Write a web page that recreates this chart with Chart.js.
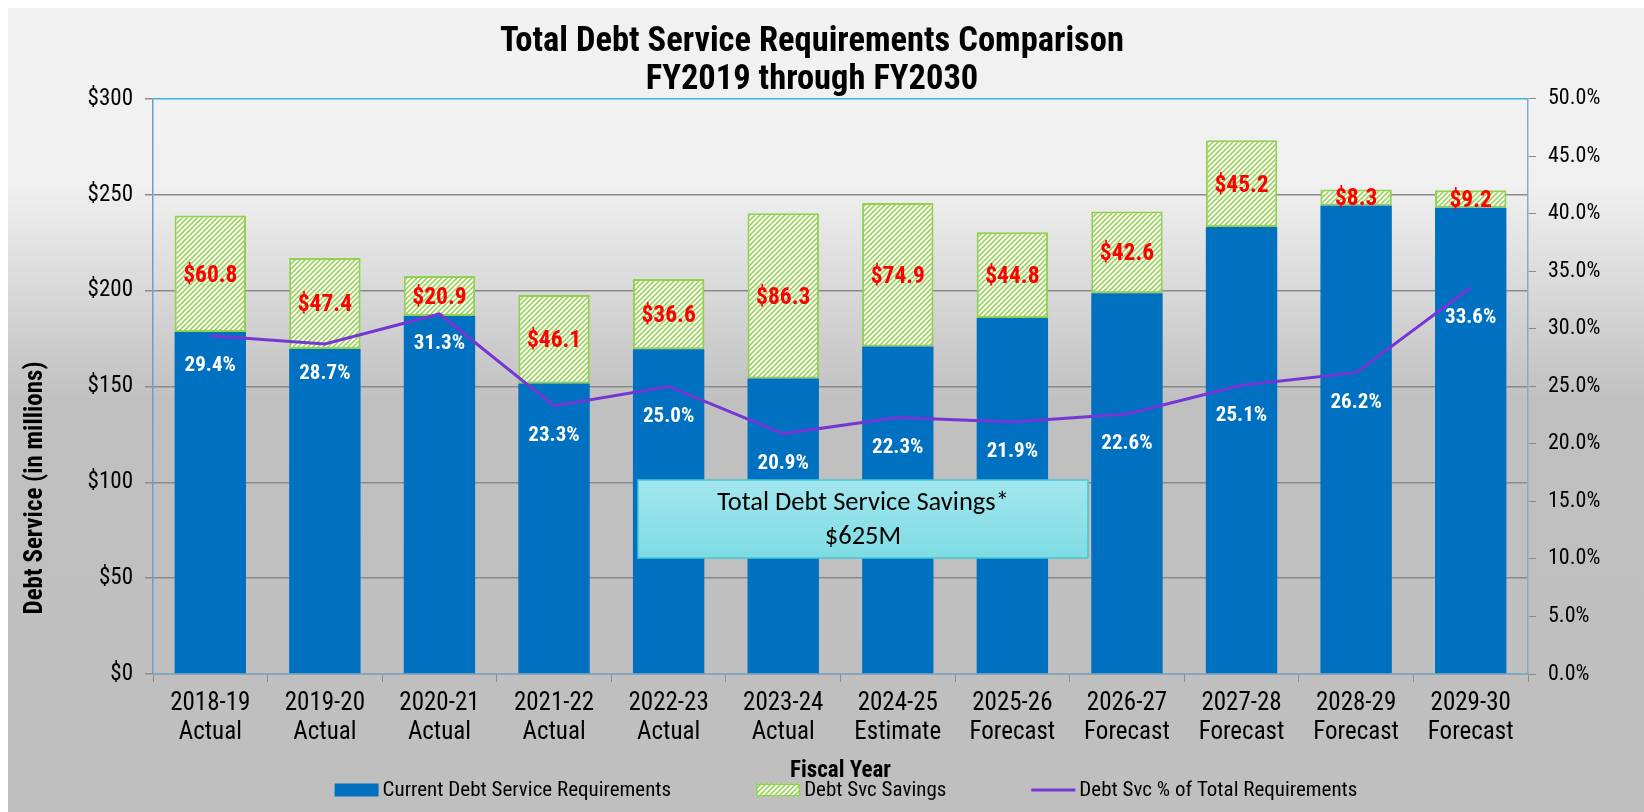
<!DOCTYPE html>
<html>
<head>
<meta charset="utf-8">
<script src="https://cdn.jsdelivr.net/npm/chart.js@4.4.1/dist/chart.umd.min.js"></script>
<style>
  html, body { margin: 0; padding: 0; background: #fff; }
  #wrap { width: 1644px; height: 812px; }
</style>
</head>
<body>
<div id="wrap"><canvas id="mainChart" width="1644" height="812"></canvas></div>
<script>
// data ($ millions / percent)
const fiscalYears = ['2018-19', '2019-20', '2020-21', '2021-22', '2022-23', '2023-24',
                     '2024-25', '2025-26', '2026-27', '2027-28', '2028-29', '2029-30'];
const yearTypes = ['Actual', 'Actual', 'Actual', 'Actual', 'Actual', 'Actual',
                   'Estimate', 'Forecast', 'Forecast', 'Forecast', 'Forecast', 'Forecast'];
const currentDebt = [178.4, 169.6, 186.7, 151.6, 169.4, 154.1, 170.8, 185.7, 198.6, 233.2, 244.4, 243.2];
const debtSavings = [60.8, 47.4, 20.9, 46.1, 36.6, 86.3, 74.9, 44.8, 42.6, 45.2, 8.3, 9.2];
const pctOfTotal = [29.4, 28.7, 31.3, 23.3, 25.0, 20.9, 22.3, 21.9, 22.6, 25.1, 26.2, 33.6];
const titleLines = ['Total Debt Service Requirements Comparison', 'FY2019 through FY2030'];
const savingsNote = ['Total Debt Service Savings*', '$625M'];

// no Arial Narrow here, Roboto Condensed is the closest installed face
const narrow = '"Roboto Condensed", "Liberation Sans Narrow", "Arial Narrow", sans-serif';
const BLUE = '#0070c0', GREEN = '#92d050', PURPLE = '#7536d4';

// diagonal hatch for the savings bars
function makeHatch() {
    const s = 5;
    const c = document.createElement('canvas');
    c.width = s; c.height = s;
    const x = c.getContext('2d');
    x.fillStyle = '#fafcf6';
    x.fillRect(0, 0, s, s);
    x.strokeStyle = GREEN;
    x.lineWidth = 1.5;
    x.beginPath();
    x.moveTo(0, s); x.lineTo(s, 0);
    x.moveTo(-1, 1); x.lineTo(1, -1);
    x.moveTo(s - 1, s + 1); x.lineTo(s + 1, s - 1);
    x.stroke();
    return x.createPattern(c, 'repeat');
}
const hatch = makeHatch();

const background = {
    id: 'background',
    beforeDraw(chart) {
        const {ctx, width, height} = chart;
        ctx.save();
        ctx.fillStyle = '#ffffff';
        ctx.fillRect(0, 0, width, height);
        const g = ctx.createLinearGradient(0, 8, 0, height);
        g.addColorStop(0, '#f2f2f2');
        g.addColorStop(0.22, '#f0f0f0');
        g.addColorStop(0.49, '#c0c0c0');
        g.addColorStop(1, '#bfbfbf');
        ctx.fillStyle = g;
        ctx.fillRect(8, 8, width - 8, height - 8);
        ctx.restore();
    }
};

const valueLabels = {
    id: 'valueLabels',
    afterDatasetsDraw(chart) {
        const ctx = chart.ctx;
        ctx.save();
        ctx.textAlign = 'center';
        ctx.textBaseline = 'middle';
        ctx.fillStyle = '#ff0000';
        ctx.font = 'bold 23.5px ' + narrow;
        chart.getDatasetMeta(1).data.forEach((bar, i) => {
            ctx.fillText('$' + debtSavings[i].toFixed(1), bar.x, (bar.y + bar.base) / 2 + 2);
        });
        ctx.fillStyle = '#ffffff';
        ctx.font = 'bold 21px ' + narrow;
        chart.getDatasetMeta(2).data.forEach((pt, i) => {
            ctx.fillText(pctOfTotal[i].toFixed(1) + '%', pt.x, pt.y + 30);
        });
        ctx.restore();
    }
};

const extras = {
    id: 'extras',
    afterDraw(chart) {
        const ctx = chart.ctx;
        ctx.save();

        // y axis title, sits lower than the plot middle
        ctx.translate(36, 488);
        ctx.rotate(-Math.PI / 2);
        ctx.font = 'bold 25px ' + narrow;
        ctx.fillStyle = '#000';
        ctx.textAlign = 'center';
        ctx.textBaseline = 'middle';
        ctx.fillText('Debt Service (in millions)', 0, 0);
        ctx.setTransform(1, 0, 0, 1, 0, 0);

        // legend
        ctx.font = '21px ' + narrow;
        ctx.textAlign = 'left';
        const boxW = 44, gap = 4, spacing = 85, ly = 790;
        const items = chart.data.datasets.map(ds => ({ds, w: boxW + gap + ctx.measureText(ds.label).width}));
        const total = items.reduce((s, it) => s + it.w, 0) + spacing * (items.length - 1);
        let lx = 846 - total / 2;
        items.forEach(({ds, w}) => {
            if (ds.type === 'line') {
                ctx.strokeStyle = ds.borderColor;
                ctx.lineWidth = 3;
                ctx.beginPath();
                ctx.moveTo(lx, ly);
                ctx.lineTo(lx + boxW, ly);
                ctx.stroke();
            } else {
                ctx.fillStyle = ds.backgroundColor;
                ctx.fillRect(lx, ly - 6.5, boxW, 13);
                if (ds.borderWidth) {
                    ctx.strokeStyle = ds.borderColor;
                    ctx.lineWidth = 1.5;
                    ctx.strokeRect(lx + 0.75, ly - 5.75, boxW - 1.5, 11.5);
                }
            }
            ctx.fillStyle = '#000';
            ctx.fillText(ds.label, lx + boxW + gap, ly + 1);
            lx += w + spacing;
        });

        // savings call-out box
        const bx = 638, by = 480, bw = 450, bh = 78;
        const g = ctx.createLinearGradient(0, by, 0, by + bh);
        g.addColorStop(0, '#a3e6ee');
        g.addColorStop(1, '#7edce3');
        ctx.fillStyle = g;
        ctx.fillRect(bx, by, bw, bh);
        ctx.strokeStyle = '#45c6d6';
        ctx.lineWidth = 1.5;
        ctx.strokeRect(bx, by, bw, bh);
        ctx.fillStyle = '#000';
        ctx.textAlign = 'center';
        ctx.textBaseline = 'middle';
        ctx.font = '26.5px Carlito, Lato, "Open Sans", sans-serif';
        ctx.fillText(savingsNote[0], bx + bw / 2, by + 23);
        ctx.fillText(savingsNote[1], bx + bw / 2, by + 57);
        ctx.restore();
    }
};

new Chart(document.getElementById('mainChart'), {
    type: 'bar',
    data: {
        labels: fiscalYears.map((y, i) => [y, yearTypes[i]]),
        datasets: [
            {
                label: 'Current Debt Service Requirements',
                data: currentDebt,
                backgroundColor: BLUE,
                stack: 'debt',
                yAxisID: 'y',
                order: 1,
                categoryPercentage: 1,
                barPercentage: 0.623
            },
            {
                label: 'Debt Svc Savings',
                data: debtSavings,
                backgroundColor: hatch,
                borderColor: GREEN,
                borderWidth: 2,
                borderSkipped: false,
                stack: 'debt',
                yAxisID: 'y',
                order: 1,
                categoryPercentage: 1,
                barPercentage: 0.623
            },
            {
                type: 'line',
                label: 'Debt Svc % of Total Requirements',
                data: pctOfTotal,
                borderColor: PURPLE,
                backgroundColor: PURPLE,
                borderWidth: 3,
                pointRadius: 0,
                tension: 0,
                yAxisID: 'y1',
                order: 0
            }
        ]
    },
    options: {
        responsive: false,
        animation: false,
        devicePixelRatio: 1,
        // right padding moves the title centre left like the original
        layout: { padding: { left: 8, top: 8, right: 28, bottom: 0 } },
        plugins: {
            legend: { display: false },
            tooltip: { enabled: false },
            title: {
                display: true,
                text: titleLines,
                color: '#000',
                font: { family: narrow, size: 34.5, weight: 'bold', lineHeight: 1.1 },
                padding: { top: 15, bottom: 0 }
            }
        },
        scales: {
            x: {
                stacked: true,
                grid: { drawOnChartArea: false, offset: true, tickLength: 8, color: '#8c8c8c' },
                border: { color: '#7fa7c2', width: 1.5 },
                ticks: { color: '#000', font: { family: narrow, size: 25, lineHeight: 1.13 }, padding: 8, maxRotation: 0, autoSkip: false },
                title: {
                    display: true,
                    text: 'Fiscal Year',
                    color: '#000',
                    font: { family: narrow, size: 23, weight: 'bold', lineHeight: 1.2 },
                    padding: { top: 0, bottom: 27 }
                },
                afterFit: s => { s.height = 812 - 674; }
            },
            y: {
                stacked: true,
                min: 0,
                max: 300,
                ticks: { stepSize: 50, color: '#000', font: { family: narrow, size: 23 }, padding: 12, callback: v => '$' + v },
                grid: { color: c => c.tick.value === 300 ? '#3fb3e6' : '#8a8a8a', tickColor: '#8a8a8a', lineWidth: 1.5, tickLength: 8 },
                border: { color: '#6d9fbe', width: 1.5 },
                afterFit: s => { s.width = 153 - 8; }
            },
            y1: {
                position: 'right',
                min: 0,
                max: 50,
                ticks: { stepSize: 5, color: '#000', font: { family: narrow, size: 22 }, padding: 12, callback: v => v.toFixed(1) + '%' },
                grid: { drawOnChartArea: false, tickLength: 8, color: '#8a8a8a' },
                border: { color: '#7eaecb', width: 1.5 },
                afterFit: s => { s.width = 1644 - 28 - 1528; }
            }
        }
    },
    plugins: [background, valueLabels, extras]
});
</script>
</body>
</html>
